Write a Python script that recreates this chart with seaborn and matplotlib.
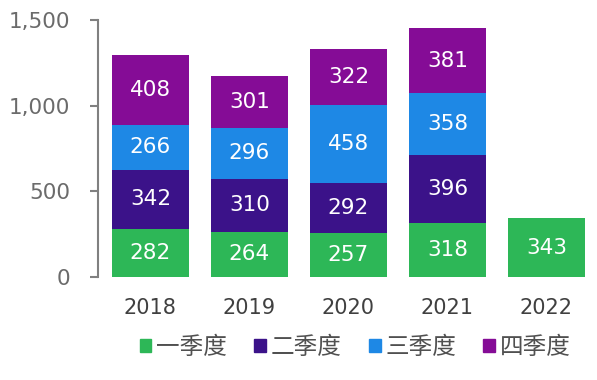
import numpy as np
import pandas as pd
import matplotlib
matplotlib.use('Agg')
import matplotlib.pyplot as plt
import matplotlib.patches as mpatches
from matplotlib.ticker import FuncFormatter
import seaborn as sns

years = ['2018', '2019', '2020', '2021', '2022']
q1 = [282, 264, 257, 318, 343]
q2 = [342, 310, 292, 396, np.nan]
q3 = [266, 296, 458, 358, np.nan]
q4 = [408, 301, 322, 381, np.nan]
quarters = ['一季度', '二季度', '三季度', '四季度']
colors = ['#2db757', '#3b1289', '#1e88e5', '#850c96']

sns.set_theme(style='white')
plt.rcParams['font.family'] = ['DejaVu Sans', 'Noto Sans CJK SC']

df = pd.DataFrame({'year': years, '一季度': q1, '二季度': q2, '三季度': q3, '四季度': q4})
cum = df[quarters].cumsum(axis=1)
cum['year'] = df['year']

fig = plt.figure(figsize=(5.97, 3.80), dpi=100)
ax = fig.add_axes([0.164, 0.271, 0.826, 0.676])

# stacked bars: draw cumulative totals from top layer down
for q, c in reversed(list(zip(quarters, colors))):
    sns.barplot(data=cum, x='year', y=q, order=years, color=c, width=0.78,
                saturation=1, ax=ax, linewidth=0)

# segment labels
for i in range(len(years)):
    base = 0
    for q in quarters:
        v = df[q].iloc[i]
        if pd.isna(v):
            continue
        ax.text(i, base + v / 2, f'{int(v)}', ha='center', va='center',
                color='white', fontsize=15.5)
        base += v

ax.set_ylim(0, 1500)
ax.set_xlim(-0.53, 4.45)
ax.set_yticks([0, 500, 1000, 1500])
ax.yaxis.set_major_formatter(FuncFormatter(lambda v, p: f'{int(v):,}'))
ax.set_xlabel('')
ax.set_ylabel('')
for s in ['top', 'right', 'bottom']:
    ax.spines[s].set_visible(False)
ax.spines['left'].set_color('#808080')
ax.spines['left'].set_linewidth(1.5)
ax.tick_params(axis='y', left=True, length=6, width=1.5, color='#808080',
               labelcolor='#6b6b6b', labelsize=15.5, pad=14)
ax.tick_params(axis='x', bottom=False, labelcolor='#404040', labelsize=15, pad=9)

handles = [mpatches.Patch(color=c, label=q) for q, c in zip(quarters, colors)]
fig.legend(handles=handles, loc='center', bbox_to_anchor=(0.595, 0.087), ncol=4,
           frameon=False, fontsize=17, handlelength=0.5, handleheight=0.5,
           handletextpad=0.2, columnspacing=1.15, labelcolor='#505050')

fig.savefig('out.png', dpi=100)
